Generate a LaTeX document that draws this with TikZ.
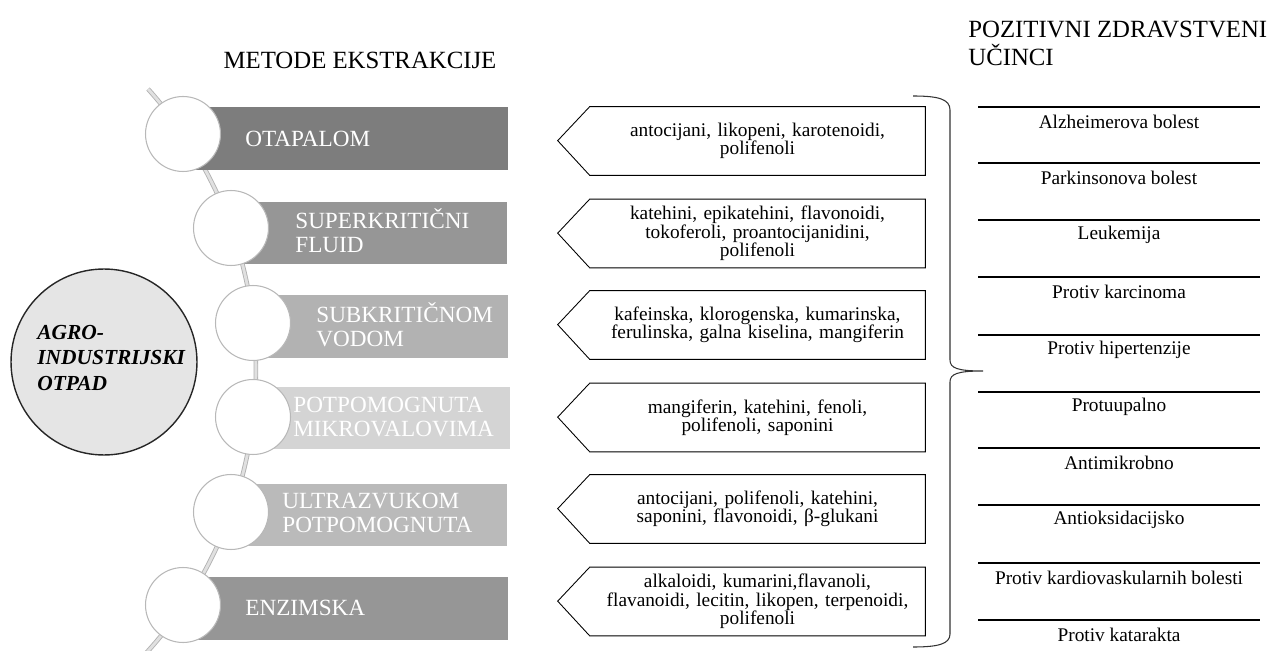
\documentclass[tikz,border=0pt]{standalone}
\usepackage{fontspec}
\setmainfont{Liberation Serif}
\usepackage{tikz}

\begin{document}
\begin{tikzpicture}[x=0.02cm,y=-0.02cm,
  title/.style={font=\fontsize{14.1}{16}\selectfont,inner sep=0pt},
  wastecircle/.style={circle,draw=black!85,fill=black!10,line width=0.8pt,minimum size=3.72cm,inner sep=0pt},
  wastetext/.style={align=left,font=\fontsize{12.2}{14.6}\selectfont\bfseries\itshape,inner sep=0pt},
  stepcircle/.style={circle,draw=black!28,fill=white,line width=0.6pt,minimum size=1.5cm,inner sep=0pt},
  methodbar/.style={rectangle,minimum height=1.25cm,inner sep=0pt},
  methodtext/.style={anchor=west,align=left,text=white,font=\fontsize{13.2}{13.7}\selectfont,inner sep=0pt},
  compbox/.style={minimum width=6.7cm,minimum height=1.36cm,text width=6.5cm,align=center,font=\fontsize{11}{10.4}\selectfont,inner sep=0pt},
  compline/.style={draw=black,line width=0.5pt},
  effecttext/.style={font=\fontsize{11}{12}\selectfont,inner sep=0pt},
  sepline/.style={draw=black,line width=0.6pt},
  bracket/.style={draw=black!80,line width=0.6pt},
  spine/.style={draw=black!30,line width=0.5pt,double=black!12,double distance=1.6pt}]
\useasboundingbox (0,0) rectangle (1273,651);

\node[title] (tm) at (360,60) {METODE EKSTRAKCIJE};
\node[title,anchor=west,align=left] (te) at (968,43) {POZITIVNI ZDRAVSTVENI\\UČINCI};

\coordinate (sc) at (-164,370);
\draw[spine] (sc) ++(42:8.4cm) arc[start angle=42,end angle=-42.5,radius=8.4cm];

\node[methodbar,fill=black!51,minimum width=6.5cm] (b1) at (345.5,138.5) {};
\node[methodbar,fill=black!41,minimum width=5.52cm] (b2) at (369,233) {};
\node[methodbar,fill=black!30,minimum width=5.1cm] (b3) at (380.5,326.5) {};
\node[methodbar,fill=black!17,minimum width=5.14cm] (b4) at (381.5,418) {};
\node[methodbar,fill=black!27,minimum width=5.52cm] (b5) at (369,515) {};
\node[methodbar,fill=black!41,minimum width=6.5cm] (b6) at (345.5,608.5) {};

\node[stepcircle] (s1) at (183,134) {};
\node[stepcircle] (s2) at (231,228) {};
\node[stepcircle] (s3) at (253,323) {};
\node[stepcircle] (s4) at (253,417) {};
\node[stepcircle] (s5) at (231,512) {};
\node[stepcircle] (s6) at (183,605) {};

\node[methodtext] (m1) at (245,138.5) {OTAPALOM};
\node[methodtext] (m2) at (295,231) {SUPERKRITIČNI\\FLUID};
\node[methodtext] (m3) at (316,324.5) {SUBKRITIČNOM\\VODOM};
\node[methodtext] (m4) at (293,417) {POTPOMOGNUTA\\MIKROVALOVIMA};
\node[methodtext] (m5) at (282,513) {ULTRAZVUKOM\\POTPOMOGNUTA};
\node[methodtext] (m6) at (245,608) {ENZIMSKA};

\node[wastecircle] (w) at (104,362) {};
\node[wastetext,anchor=west] (wt) at (37,358) {AGRO-\\INDUSTRIJSKI\\OTPAD};

\node[compbox] (c1) at (757.5,141) {antocijani, likopeni, karotenoidi,\\polifenoli};
\node[compbox] (c2) at (757.5,233.5) {katehini, epikatehini, flavonoidi,\\tokoferoli, proantocijanidini,\\polifenoli};
\node[compbox] (c3) at (757.5,325) {kafeinska, klorogenska, kumarinska,\\ferulinska, galna kiselina, mangiferin};
\node[compbox] (c4) at (757.5,417.5) {mangiferin, katehini, fenoli,\\polifenoli, saponini};
\node[compbox] (c5) at (757.5,509) {antocijani, polifenoli, katehini,\\saponini, flavonoidi, β-glukani};
\node[compbox] (c6) at (757.5,601.5) {alkaloidi, kumarini,flavanoli,\\flavanoidi, lecitin, likopen, terpenoidi,\\polifenoli};
\draw[compline] (c1.north east) -- (c1.north west) -- ++(-32,34) -- (c1.south west) -- (c1.south east) -- cycle;
\draw[compline] (c2.north east) -- (c2.north west) -- ++(-32,34) -- (c2.south west) -- (c2.south east) -- cycle;
\draw[compline] (c3.north east) -- (c3.north west) -- ++(-32,34) -- (c3.south west) -- (c3.south east) -- cycle;
\draw[compline] (c4.north east) -- (c4.north west) -- ++(-32,34) -- (c4.south west) -- (c4.south east) -- cycle;
\draw[compline] (c5.north east) -- (c5.north west) -- ++(-32,34) -- (c5.south west) -- (c5.south east) -- cycle;
\draw[compline] (c6.north east) -- (c6.north west) -- ++(-32,34) -- (c6.south west) -- (c6.south east) -- cycle;

\draw[bracket] (913,96) .. controls (938,96) and (950,99) .. (950,110) -- (950,360) .. controls (950,368) and (957,371) .. (983,371) .. controls (957,371) and (950,374) .. (950,382) -- (950,634) .. controls (950,644) and (938,647) .. (913,647);

\draw[sepline] (978,107) -- (1260,107);
\draw[sepline] (978,163) -- (1260,163);
\draw[sepline] (978,220) -- (1260,220);
\draw[sepline] (978,277) -- (1260,277);
\draw[sepline] (978,335) -- (1260,335);
\draw[sepline] (978,392) -- (1260,392);
\draw[sepline] (978,448) -- (1260,448);
\draw[sepline] (978,505) -- (1260,505);
\draw[sepline] (978,563) -- (1260,563);
\draw[sepline] (978,620) -- (1260,620);

\node[effecttext] (e1) at (1119,122) {Alzheimerova bolest};
\node[effecttext] (e2) at (1119,178) {Parkinsonova bolest};
\node[effecttext] (e3) at (1119,235) {Leukemija};
\node[effecttext] (e4) at (1119,292) {Protiv karcinoma};
\node[effecttext] (e5) at (1119,350) {Protiv hipertenzije};
\node[effecttext] (e6) at (1119,407) {Protuupalno};
\node[effecttext] (e7) at (1119,463) {Antimikrobno};
\node[effecttext] (e8) at (1119,520) {Antioksidacijsko};
\node[effecttext] (e9) at (1119,578) {Protiv kardiovaskularnih bolesti};
\node[effecttext] (e10) at (1119,635) {Protiv katarakta};
\end{tikzpicture}
\end{document}
